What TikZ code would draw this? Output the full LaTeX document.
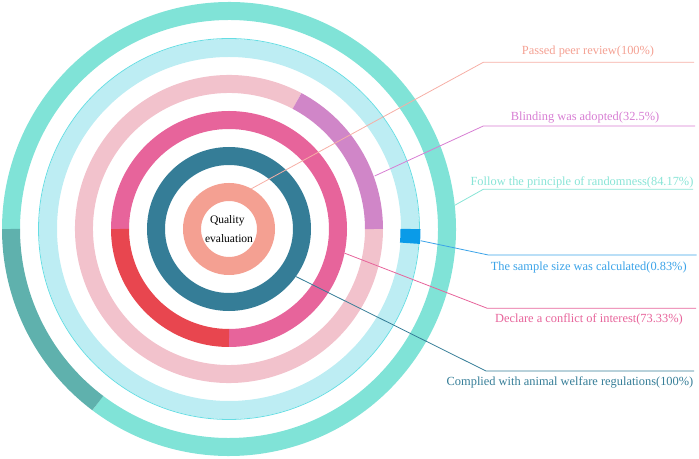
\documentclass[tikz,border=0pt]{standalone}
\usepackage{fontspec}
\setmainfont{Liberation Serif}
\definecolor{salmonc}{HTML}{F4A092}
\definecolor{salmonl}{HTML}{F6AFA6}
\definecolor{tealc}{HTML}{357D97}
\definecolor{pinkc}{HTML}{E7649B}
\definecolor{redc}{HTML}{E8464F}
\definecolor{lpinkc}{HTML}{F2C2CC}
\definecolor{purplec}{HTML}{D086C8}
\definecolor{purplel}{HTML}{D77ED3}
\definecolor{lcyanc}{HTML}{BDEDF3}
\definecolor{cyanline}{HTML}{66DDE3}
\definecolor{bluec}{HTML}{0A9BE8}
\definecolor{bluel}{HTML}{3BA3E8}
\definecolor{turqc}{HTML}{80E3D7}
\definecolor{turql}{HTML}{88E4D6}
\definecolor{dturqc}{HTML}{5FB1AD}
\begin{document}
\begin{tikzpicture}[x=1pt,y=1pt,
  ring/.style={line width=18pt},
  lbl/.style={font=\fontsize{12.4}{14}\selectfont, anchor=base, inner sep=0pt},
  ctr/.style={font=\fontsize{11.5}{13}\selectfont, anchor=base, inner sep=0pt, text=black},
  leader/.style={line width=0.8pt}]
\useasboundingbox (0,0) rectangle (699,458);
\coordinate (c) at (229,229);
% ring 1: passed peer review
\draw[ring, salmonc] (c) circle[radius=37];
% ring 2: complied with animal welfare
\draw[ring, tealc] (c) circle[radius=73];
% ring 3: conflict of interest
\draw[ring, pinkc] ([shift={(-90:109)}]c) arc[start angle=-90, end angle=180, radius=109];
\draw[ring, redc] ([shift={(180:109)}]c) arc[start angle=180, end angle=270, radius=109];
% ring 4: blinding
\draw[ring, lpinkc] ([shift={(62:145)}]c) arc[start angle=62, end angle=360, radius=145];
\draw[ring, purplec] ([shift={(0:145)}]c) arc[start angle=0, end angle=62, radius=145];
% ring 5: sample size
\draw[ring, lcyanc] (c) circle[radius=181];
\draw[line width=0.8pt, cyanline] (c) circle[radius=190.5];
\draw[line width=20pt, bluec] ([shift={(-4.5:181.5)}]c) arc[start angle=-4.5, end angle=0, radius=181.5];
% ring 6: randomness
\draw[ring, turqc] ([shift={(233:218)}]c) arc[start angle=233, end angle=540, radius=218];
\draw[ring, dturqc] ([shift={(180:218)}]c) arc[start angle=180, end angle=233, radius=218];
% centre text
\node[ctr] (q) at (227.3,234.7) {Quality};
\node[ctr] (ev) at (229,215.3) {evaluation};
% leaders
\coordinate (s1) at ([shift={(61:46)}]c);
\coordinate (e1) at (483.3,395.7);
\coordinate (f1) at (694,395.7);
\draw[leader, salmonl] (s1) -- (e1) -- (f1);
\node[lbl, text=salmonc] (l1) at (588,403) {Passed peer review(100\%)};
\coordinate (s2) at ([shift={(20:155)}]c);
\coordinate (e2) at (483.3,332);
\coordinate (f2) at (695,332);
\draw[leader, purplel] (s2) -- (e2) -- (f2);
\node[lbl, text=purplel] (l2) at (585,337.3) {Blinding was adopted(32.5\%)};
\coordinate (s3) at ([shift={(6:227)}]c);
\coordinate (e3) at (483.3,268.7);
\coordinate (f3) at (693,268.7);
\draw[leader, turql] (s3) -- (e3) -- (f3);
\node[lbl, text=turql] (l3) at (582,272.3) {Follow the principle of randomness(84.17\%)};
\coordinate (s4) at ([shift={(-3.5:192)}]c);
\coordinate (e4) at (488.3,203);
\coordinate (f4) at (696.7,203);
\draw[leader, bluel] (s4) -- (e4) -- (f4);
\node[lbl, text=bluel] (l4) at (588.7,187) {The sample size was calculated(0.83\%)};
\coordinate (s5) at ([shift={(-11.8:118)}]c);
\coordinate (e5) at (487.3,149.7);
\coordinate (f5) at (696,149.7);
\draw[leader, pinkc] (s5) -- (e5) -- (f5);
\node[lbl, text=pinkc] (l5) at (589,135.7) {Declare a conflict of interest(73.33\%)};
\coordinate (s6) at ([shift={(-35.4:82)}]c);
\coordinate (e6) at (486,87);
\coordinate (f6) at (694,87);
\draw[leader, tealc] (s6) -- (e6) -- (f6);
\node[lbl, text=tealc] (l6) at (570,72.7) {Complied with animal welfare regulations(100\%)};
\end{tikzpicture}
\end{document}
